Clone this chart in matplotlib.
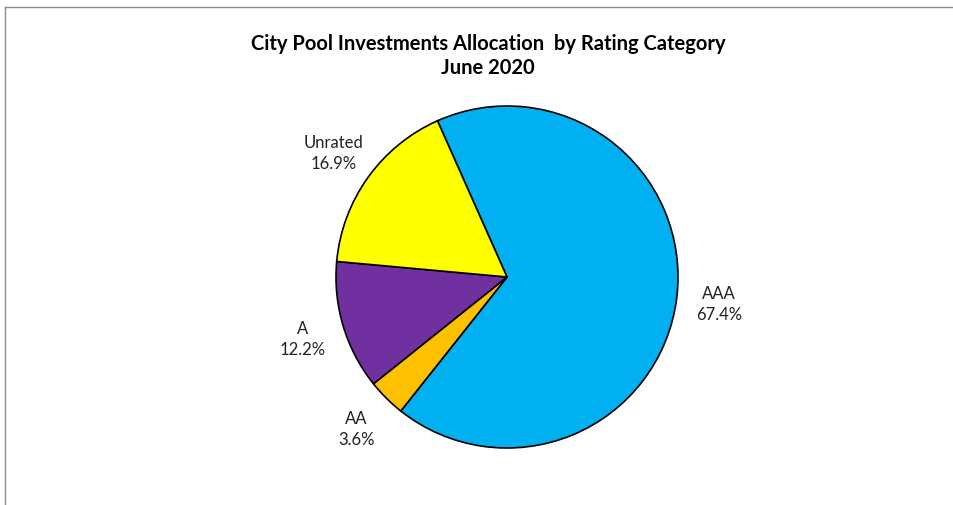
import matplotlib
matplotlib.use("Agg")
import matplotlib.pyplot as plt
from matplotlib.lines import Line2D

plt.rcParams['font.family'] = ['Lato', 'DejaVu Sans']

categories = ["AAA", "AA", "A", "Unrated"]
values = [67.4, 3.6, 12.2, 16.9]
colors = ["#00B0F0", "#FFC000", "#7030A0", "#FFFF00"]
title = "City Pool Investments Allocation  by Rating Category\nJune 2020"

W, H = 954, 506
fig = plt.figure(figsize=(W / 100, H / 100), dpi=100)
ax = fig.add_axes([0, 0, 1, 1])

labels = [f"{c}\n{v:.1f}%" for c, v in zip(categories, values)]
wedges, texts = ax.pie(values, colors=colors, labels=labels, startangle=114,
                       counterclock=False, center=(507, H - 278), radius=171,
                       labeldistance=1.25, normalize=True,
                       wedgeprops=dict(edgecolor="black", linewidth=1.2),
                       textprops=dict(fontsize=12, color="#222222", linespacing=1.4))
for t in texts:
    t.set_ha("center")
    t.set_va("center")

ax.set_xlim(0, W)
ax.set_ylim(0, H)
ax.set_aspect("equal")
ax.axis("off")

fig.text(488 / W, 1 - 56 / H, title, ha="center", va="center", fontsize=14.5,
         fontweight="bold", linespacing=1.2)

fig.add_artist(Line2D([5 / W, 5 / W], [0, 1 - 8 / H], color="#8c8c8c", lw=1))
fig.add_artist(Line2D([5 / W, 1], [1 - 8 / H, 1 - 8 / H], color="#8c8c8c", lw=1))

fig.savefig("out.png", dpi=100)
